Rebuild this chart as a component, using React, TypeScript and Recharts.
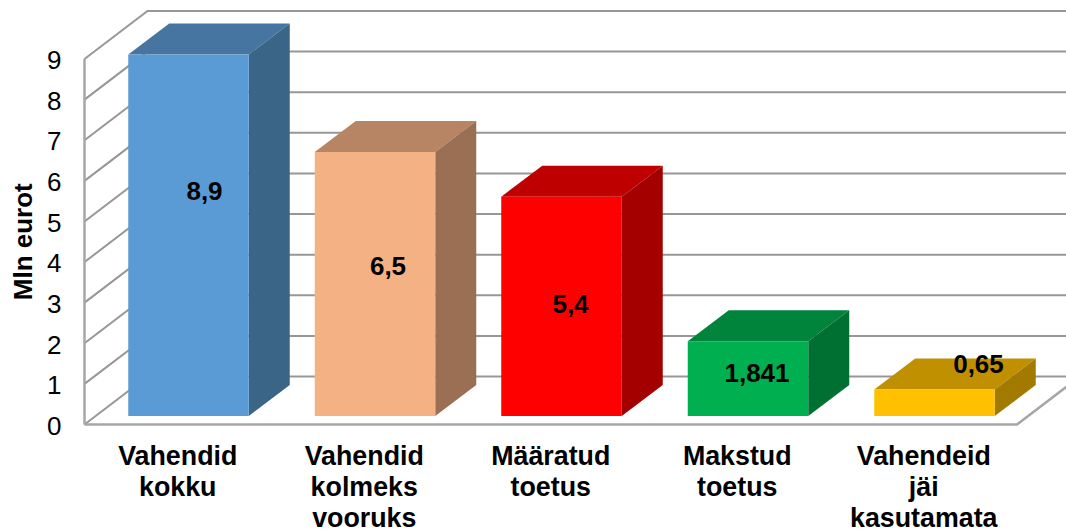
import { Bar, BarChart, CartesianGrid, LabelList, XAxis, YAxis } from "recharts";

const categories = ["Vahendid\nkokku", "Vahendid\nkolmeks\nvooruks", "Määratud\ntoetus", "Makstud\ntoetus", "Vahendeid\njäi\nkasutamata"];
const values = [8.9, 6.5, 5.4, 1.841, 0.65];
const yTicks = [0, 1, 2, 3, 4, 5, 6, 7, 8, 9];

const frontColors = ["#5B9BD5", "#F4B183", "#FF0000", "#00B050", "#FFC000"];
const topColors = ["#4675A1", "#B88564", "#BF0000", "#00843C", "#C09000"];
const sideColors = ["#3A6586", "#9A6F53", "#A50000", "#006F32", "#A37A00"];

// the value labels were dragged around by hand in the original chart
const labelShifts = [[16, -44], [13, -18], [9, -2], [9, -6], [44, -39]];

const data = categories.map((name, i) => ({ name, value: values[i] }));

const FONT = "'Liberation Sans', Arial, sans-serif";
const GRID = "#979797";
// depth of the chart floor and of the bars, in pixels
const WALL_DX = 63;
const WALL_DY = -48;
const BAR_DX = 41;
const BAR_DY = -31;
// bars stand a little inside the floor
const INSET_X = 10.75;
const INSET_Y = -8.5;

function WallLine({ x1, x2, y1, index }: any) {
  return (
    <g key={index} fill="none" stroke={GRID} strokeWidth={2}>
      <polyline points={`${x1},${y1} ${x1 + WALL_DX},${y1 + WALL_DY} ${x2 + WALL_DX},${y1 + WALL_DY}`} />
      {index === 0 && (
        <polyline points={`${x1},${y1} ${x2},${y1} ${x2 + WALL_DX},${y1 + WALL_DY}`} strokeWidth={2.5} stroke="#A6A6A6" />
      )}
    </g>
  );
}

function Bar3D({ x, y, width, height, index }: any) {
  const left = x + INSET_X;
  const right = left + width;
  const top = y + INSET_Y;
  const bottom = top + height;
  return (
    <g>
      <polygon
        points={`${left},${top} ${right},${top} ${right + BAR_DX},${top + BAR_DY} ${left + BAR_DX},${top + BAR_DY}`}
        fill={topColors[index]}
      />
      <polygon
        points={`${right},${top} ${right + BAR_DX},${top + BAR_DY} ${right + BAR_DX},${bottom + BAR_DY} ${right},${bottom}`}
        fill={sideColors[index]}
      />
      <rect x={left} y={top} width={width} height={height} fill={frontColors[index]} />
    </g>
  );
}

function ValueLabel({ x, y, width, height, value, index }: any) {
  const [dx, dy] = labelShifts[index];
  return (
    <text
      x={x + INSET_X + width / 2 + dx}
      y={y + INSET_Y + height / 2 + dy}
      textAnchor="middle"
      dominantBaseline="central"
      fontFamily={FONT}
      fontSize={26}
      fontWeight="bold"
      fill="#000"
    >
      {String(value).replace(".", ",")}
    </text>
  );
}

function CategoryTick({ x, y, payload }: any) {
  return (
    <text x={x} y={y + 40.5} textAnchor="middle" fontFamily={FONT} fontSize={26.8} fontWeight="bold" fill="#000">
      {String(payload.value).split("\n").map((line, i) => (
        <tspan key={i} x={x} dy={i === 0 ? 0 : 31}>{line}</tspan>
      ))}
    </text>
  );
}

export default function App() {
  return (
    <div style={{ position: "absolute", left: 0, top: 0, width: 1066, height: 529, background: "#fff", overflow: "hidden" }}>
      <BarChart width={1066} height={529} data={data} margin={{ top: 59, right: 49, bottom: 0, left: 0 }}>
        <CartesianGrid horizontal={(props: any) => <WallLine {...props} />} vertical={false} />
        <XAxis
          dataKey="name"
          height={104.5}
          interval={0}
          tickLine={false}
          tickSize={0}
          tickMargin={0}
          axisLine={false}
          tick={<CategoryTick />}
        />
        <YAxis
          width={84.5}
          domain={[0, 9]}
          ticks={yTicks}
          interval={0}
          tickLine={false}
          tickSize={0}
          tickMargin={23}
          axisLine={{ stroke: "#A6A6A6", strokeWidth: 2.5 }}
          tick={{ fill: "#000", fontSize: 26, fontFamily: FONT, dy: 1 }}
          label={{
            value: "Mln eurot",
            angle: -90,
            position: "insideLeft",
            offset: 0,
            dx: 23,
            style: { textAnchor: "middle", fill: "#000", fontSize: 26, fontWeight: "bold", fontFamily: FONT },
          }}
        />
        <Bar dataKey="value" barSize={120.5} shape={<Bar3D />} isAnimationActive={false}>
          <LabelList dataKey="value" content={<ValueLabel />} />
        </Bar>
      </BarChart>
    </div>
  );
}
